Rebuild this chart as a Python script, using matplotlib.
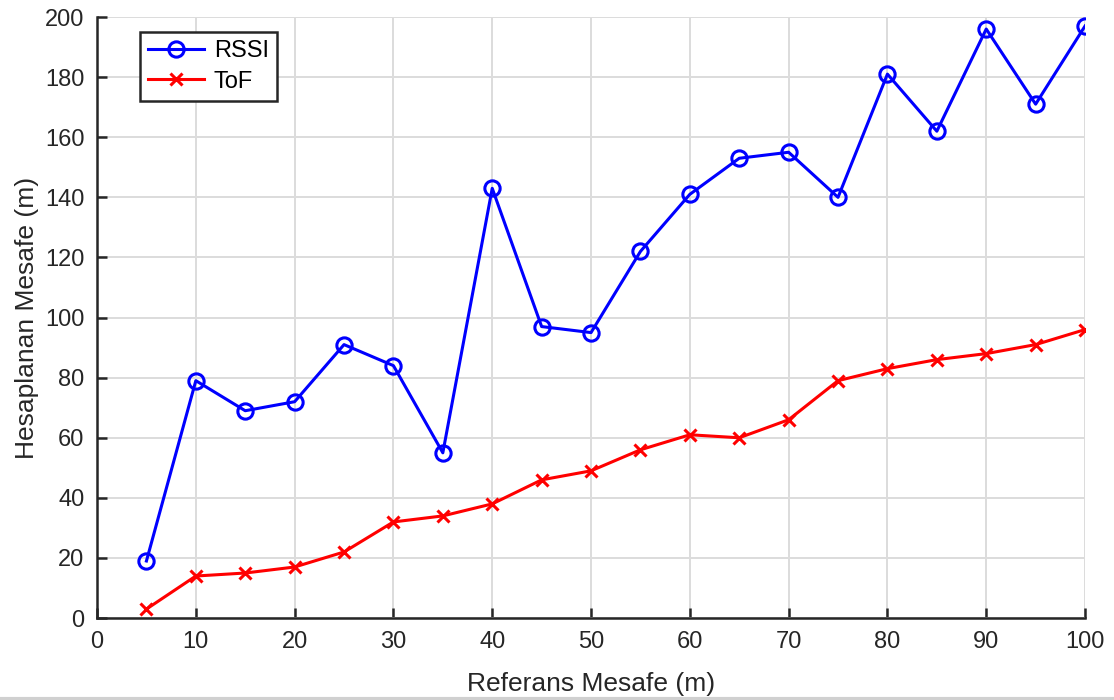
import matplotlib
matplotlib.use("Agg")
import matplotlib.pyplot as plt
from matplotlib.lines import Line2D

plt.rcParams["font.family"] = ["Liberation Sans", "DejaVu Sans"]

# reference distance (m)
ref_dist = [5, 10, 15, 20, 25, 30, 35, 40, 45, 50,
            55, 60, 65, 70, 75, 80, 85, 90, 95, 100]
# estimated distance (m)
rssi = [19, 79, 69, 72, 91, 84, 55, 143, 97, 95,
        122, 141, 153, 155, 140, 181, 162, 196, 171, 197]
tof = [3, 14, 15, 17, 22, 32, 34, 38, 46, 49,
       56, 61, 60, 66, 79, 83, 86, 88, 91, 96]

fig = plt.figure(figsize=(11.14, 7.0), dpi=100)
ax = fig.add_axes([0.0871, 0.117, 0.8869, 0.8587])

ax.plot(ref_dist, rssi, "-o", color="#0000ff", lw=2.2, ms=11,
        mfc="none", mew=2.2, label="RSSI")
ax.plot(ref_dist, tof, "-x", color="#ff0000", lw=2.2, ms=8,
        mew=2.2, label="ToF")

ax.set_xlim(0, 100)
ax.set_ylim(0, 200)
ax.set_xticks(range(0, 101, 10))
ax.set_yticks(range(0, 201, 20))
ax.grid(True, color="#dcdcdc", lw=1.4)
ax.set_axisbelow(True)

for s in ("top", "right"):
    ax.spines[s].set_visible(False)
for s in ("left", "bottom"):
    ax.spines[s].set_linewidth(1.8)
    ax.spines[s].set_color("#262626")
ax.tick_params(direction="in", length=7, width=1.8, colors="#262626",
               labelsize=17, pad=9)

ax.set_xlabel("Referans Mesafe (m)", fontsize=19, color="#262626", labelpad=14)
ax.set_ylabel("Hesaplanan Mesafe (m)", fontsize=19, color="#262626", labelpad=4)

leg = ax.legend(loc="upper left", bbox_to_anchor=(0.043, 0.975), fontsize=17,
                fancybox=False, framealpha=1, edgecolor="#262626",
                handlelength=2.4, handletextpad=0.4, borderpad=0.35,
                labelspacing=0.35, borderaxespad=0)
leg.get_frame().set_linewidth(1.8)

fig.add_artist(Line2D([0, 1], [0.002, 0.002], color="#d0d0d0", lw=3,
                      transform=fig.transFigure))

fig.savefig("out.png", dpi=100)
